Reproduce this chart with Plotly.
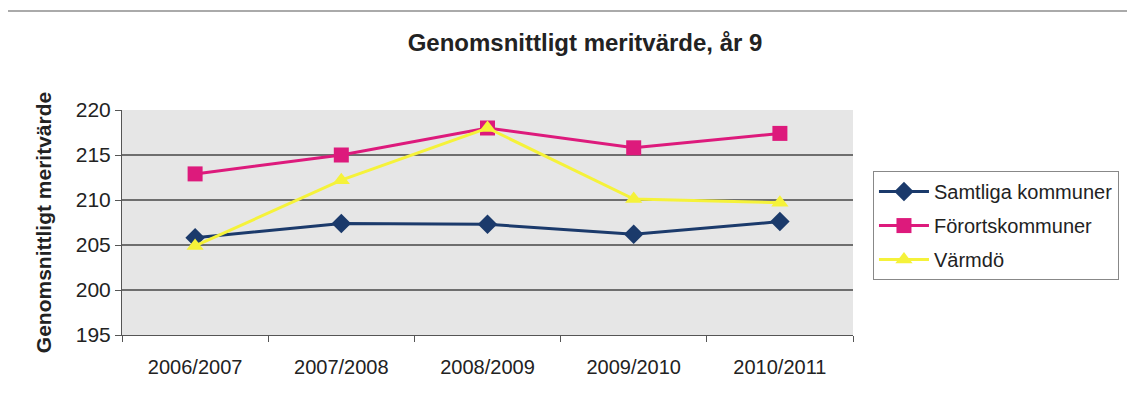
import plotly.graph_objects as go

categories = ["2006/2007", "2007/2008", "2008/2009", "2009/2010", "2010/2011"]
samtliga = [205.8, 207.4, 207.3, 206.2, 207.6]
fororts = [212.9, 215.0, 218.0, 215.8, 217.4]
varmdo = [204.9, 212.2, 218.0, 210.1, 209.7]
y_ticks = [195, 200, 205, 210, 215, 220]

FONT = "Liberation Sans, Arial, sans-serif"

fig = go.Figure()
fig.add_trace(go.Scatter(x=categories, y=samtliga, name="Samtliga kommuner", mode="lines+markers",
                         legendgroup="a",
                         line=dict(color="#1b3a6b", width=3),
                         marker=dict(symbol="diamond", size=15, color="#1b3a6b")))
fig.add_trace(go.Scatter(x=categories, y=fororts, name="Förortskommuner", mode="lines+markers",
                         legendgroup="b",
                         line=dict(color="#dd1a7c", width=3),
                         marker=dict(symbol="square", size=15, color="#dd1a7c")))
fig.add_trace(go.Scatter(x=categories, y=varmdo, name="Värmdö", mode="lines+markers",
                         legendgroup="c",
                         line=dict(color="#f5f23a", width=3),
                         marker=dict(symbol="triangle-up", size=15, color="#f5f23a")))

fig.update_layout(
    width=1127, height=392,
    margin=dict(l=114, r=282, t=102, b=65, autoexpand=False),
    paper_bgcolor="white",
    plot_bgcolor="#e6e6e6",
    font=dict(family=FONT, size=18, color="#222"),
    title=dict(text="<b>Genomsnittligt meritvärde, år 9</b>", x=0.512, xanchor="center",
               y=0.911, yanchor="middle", font=dict(size=24, color="#222")),
    showlegend=True,
    legend=dict(xref="container", yref="container", x=0.7675, y=0.584,
                xanchor="left", yanchor="top",
                bordercolor="#888", borderwidth=1, bgcolor="white",
                font=dict(size=20), tracegroupgap=5, itemwidth=50),
    xaxis=dict(type="category", showgrid=False, showline=True, linecolor="#555", linewidth=1,
               ticks="outside", tickson="boundaries", ticklen=6, tickcolor="#555",
               tickfont=dict(size=20), range=[-0.5, 4.5], ticklabelstandoff=14, automargin=False),
    yaxis=dict(range=[195, 220], tickvals=y_ticks, showgrid=True, gridcolor="#6e6e6e", gridwidth=1.5,
               showline=True, linecolor="#555", linewidth=1, ticks="outside", ticklen=6,
               tickcolor="#555", tickfont=dict(size=21), zeroline=False, automargin=False,
               title=dict(text="<b>Genomsnittligt meritvärde</b>", font=dict(size=21), standoff=18)),
)

fig.add_shape(type="line", xref="paper", yref="paper", x0=-0.16, x1=1.38, y0=1.44, y1=1.44,
              line=dict(color="#aaa", width=2))
fig.add_shape(type="line", xref="paper", yref="paper", x0=-0.16, x1=-0.16, y0=-0.3, y1=1.44,
              line=dict(color="#ccc", width=1))

fig.write_html("out.html")
